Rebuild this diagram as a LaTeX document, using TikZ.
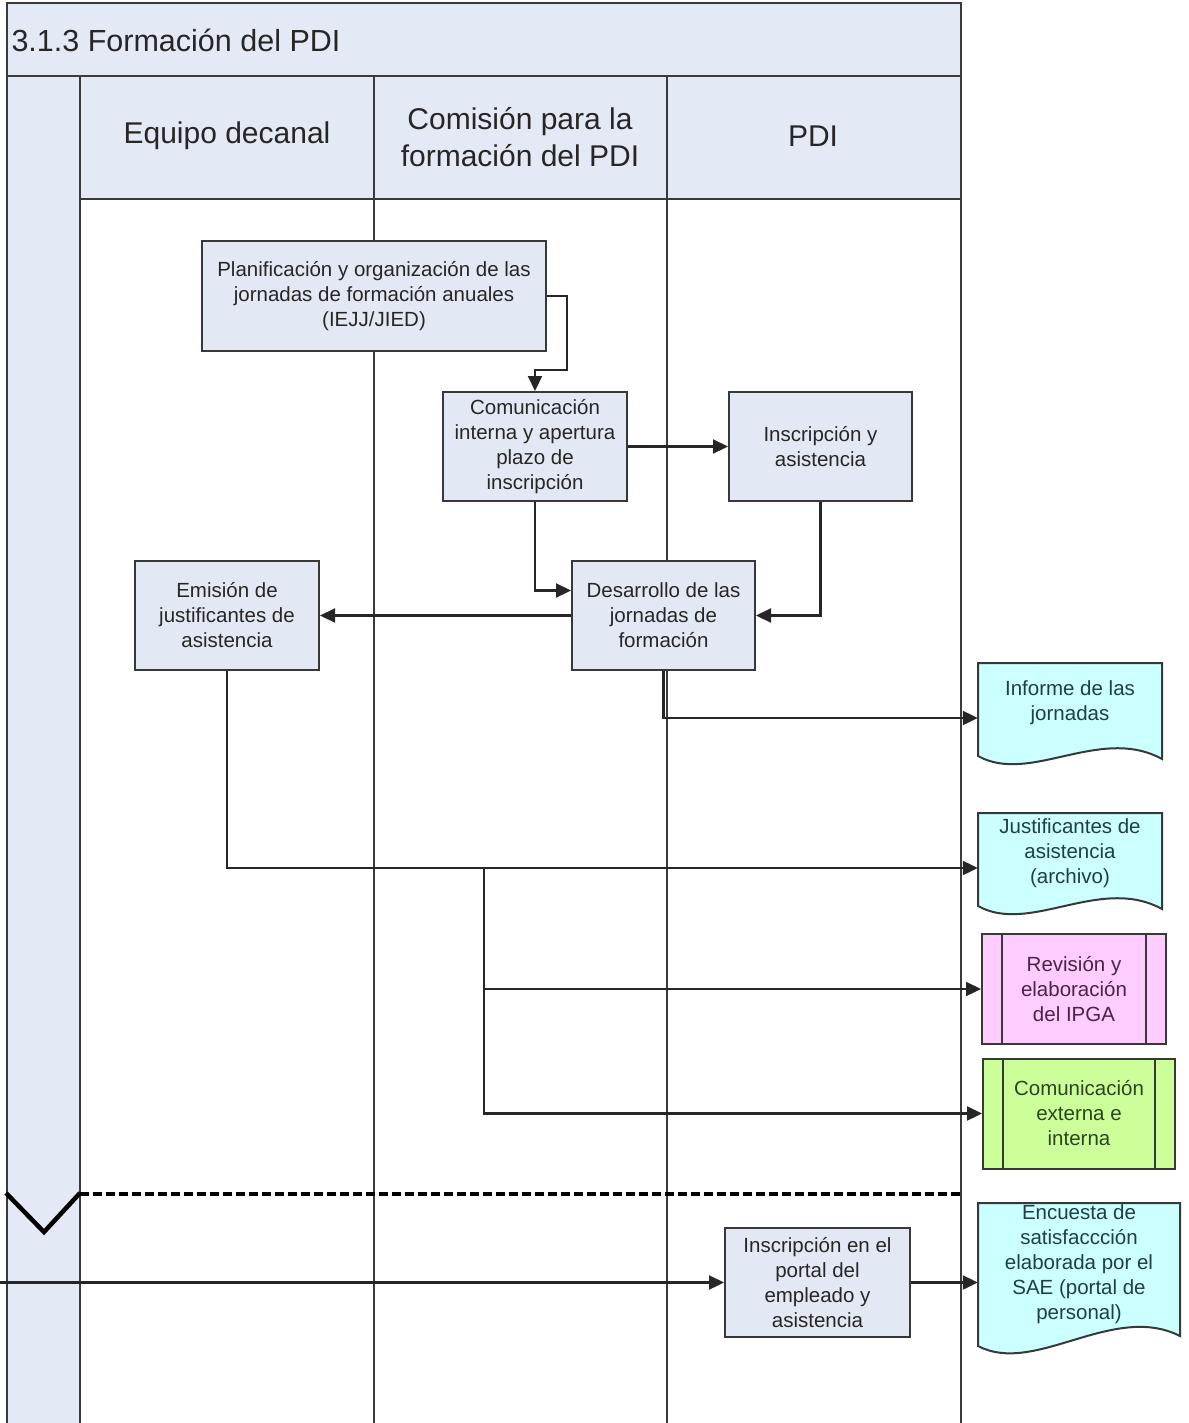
\documentclass[tikz,border=0pt]{standalone}
\usepackage{fontspec}
\setmainfont{Liberation Sans}
\usetikzlibrary{arrows.meta,calc}

\definecolor{lanefill}{HTML}{E4EAF5}
\definecolor{boxfill}{HTML}{E3E9F4}
\definecolor{docfill}{HTML}{CCFFFF}
\definecolor{pinkfill}{HTML}{FFCCFF}
\definecolor{greenfill}{HTML}{CCFF99}
\definecolor{framecol}{HTML}{3A3A3A}
\definecolor{doctext}{HTML}{1F3F48}
\definecolor{pinktext}{HTML}{4A2345}
\definecolor{greentext}{HTML}{2A4520}

\begin{document}
\begin{tikzpicture}[x=1pt,y=-1pt,
  lane/.style={draw=framecol, line width=2.2pt},
  proc/.style={draw=black!78, line width=2pt, fill=boxfill, inner sep=0pt,
    align=center, font=\fontsize{20.5}{25}\selectfont, text=black!85},
  docarea/.style={inner sep=0pt, draw=none},
  doclabel/.style={inner sep=0pt, align=center, font=\fontsize{20.5}{25}\selectfont, text=doctext},
  docshape/.style={draw=black!78, line width=2pt, fill=docfill},
  subproc/.style={draw=black!78, line width=2pt, inner sep=0pt, align=center,
    font=\fontsize{20.5}{25}\selectfont},
  flow/.style={draw=black!85, line width=2.2pt, -{Triangle[length=15pt,width=14pt]}},
  header/.style={align=center, font=\fontsize{30}{37}\selectfont, text=black!85}
]
\useasboundingbox (0,0) rectangle (1188,1423);

% ---- pool background ----
\fill[lanefill] (7,3) rectangle (961,76);
\fill[lanefill] (80,76) rectangle (961,199);
\fill[lanefill] (7,76) rectangle (80,1423);

% ---- pool and lane borders ----
\draw[lane] (7,1423) -- (7,3) -- (961,3) -- (961,1423);
\draw[lane] (7,76) -- (961,76);
\draw[lane] (80,199) -- (961,199);
\draw[lane] (80,76) -- (80,1423);
\draw[lane] (374,76) -- (374,1423);
\draw[lane] (667,76) -- (667,1423);

% ---- titles ----
\node[anchor=west, font=\fontsize{30.5}{36}\selectfont, text=black!85] (title) at (8,40) {3.1.3 Formación del PDI};
\node[header] (hdrA) at (227,136) {Equipo decanal};
\node[header] (hdrB) at (520,137) {Comisión para la\\formación del PDI};
\node[header] (hdrC) at (813,136) {PDI};

% ---- phase separator ----
\draw[line width=4.5pt, dash pattern=on 9pt off 4pt] (80,1194) -- (961,1194);
\draw[line width=4.5pt] (6,1193) -- (44,1232) -- (80,1193);

% ---- activities ----
\node[proc, minimum width=344pt, minimum height=110pt] (plan) at (374,296)
  {Planificación y organización de las\\jornadas de formación anuales\\(IEJJ/JIED)};
\node[proc, minimum width=184pt, minimum height=109pt] (com) at (535,446.5)
  {Comunicación\\interna y apertura\\plazo de\\inscripción};
\node[proc, minimum width=183pt, minimum height=109pt] (insc) at (820.5,446.5)
  {Inscripción y\\asistencia};
\node[proc, minimum width=183pt, minimum height=109pt] (des) at (663.5,615.5)
  {Desarrollo de las\\jornadas de\\formación};
\node[proc, minimum width=184pt, minimum height=109pt] (emi) at (227,615.5)
  {Emisión de\\justificantes de\\asistencia};
\node[proc, minimum width=185pt, minimum height=109pt] (portal) at (817.5,1282.5)
  {Inscripción en el\\portal del\\empleado y\\asistencia};

% ---- documents ----
\path[docshape] (978,663) -- (1162,663) -- (1162,759)
  .. controls (1100,725) and (1030,785) .. (978,756) -- cycle;
\node[docarea, minimum width=184pt, minimum height=110pt] (inf) at (1070,718) {};
\node[doclabel] (infT) at (1070,703) {Informe de las\\jornadas};

\path[docshape] (978,813) -- (1162,813) -- (1162,909)
  .. controls (1100,875) and (1030,935) .. (978,906) -- cycle;
\node[docarea, minimum width=184pt, minimum height=110pt] (jus) at (1070,868) {};
\node[doclabel] (jusT) at (1070,853) {Justificantes de\\asistencia\\(archivo)};

\path[docshape] (978,1203) -- (1180,1203) -- (1180,1336)
  .. controls (1113,1302) and (1035,1376) .. (978,1346) -- cycle;
\node[docarea, minimum width=202pt, minimum height=159pt] (enc) at (1079,1282.5) {};
\node[doclabel] (encT) at (1079,1264)
  {Encuesta de\\satisfaccción\\elaborada por el\\SAE (portal de\\personal)};

% ---- linked sub-processes ----
\node[subproc, fill=pinkfill, text=pinktext, minimum width=184pt, minimum height=110pt] (rev) at (1074,989)
  {Revisión y\\elaboración\\del IPGA};
\draw[black!78, line width=1.6pt] ($(rev.north west)+(21,0)$) -- ($(rev.south west)+(21,0)$)
  ($(rev.north east)+(-21,0)$) -- ($(rev.south east)+(-21,0)$);
\node[subproc, fill=greenfill, text=greentext, minimum width=192pt, minimum height=110pt] (cext) at (1079,1113.5)
  {Comunicación\\externa e\\interna};
\draw[black!78, line width=1.6pt] ($(cext.north west)+(21,0)$) -- ($(cext.south west)+(21,0)$)
  ($(cext.north east)+(-21,0)$) -- ($(cext.south east)+(-21,0)$);

% ---- connectors ----
\coordinate (split) at (484,868);
\coordinate (entry) at (0,1282.5);

\draw[flow] (plan.east) -- ++(20,0) -- ++(0,74) -| (com.north);
\draw[flow] (com.east) -- (insc.west);
\draw[flow] (com.south) |- ($(des.west)+(0,-25)$);
\draw[flow] (insc.south) |- (des.east);
\draw[flow] (des.west) -- (emi.east);
\draw[flow] (des.south) |- (inf.west);
\draw[flow] (emi.south) |- (jus.west);
\draw[flow] (split) |- (rev.west);
\draw[flow] (split) |- (cext.west);
\draw[flow] (entry) -- (portal.west);
\draw[flow] (portal.east) -- (enc.west);

\end{tikzpicture}
\end{document}
